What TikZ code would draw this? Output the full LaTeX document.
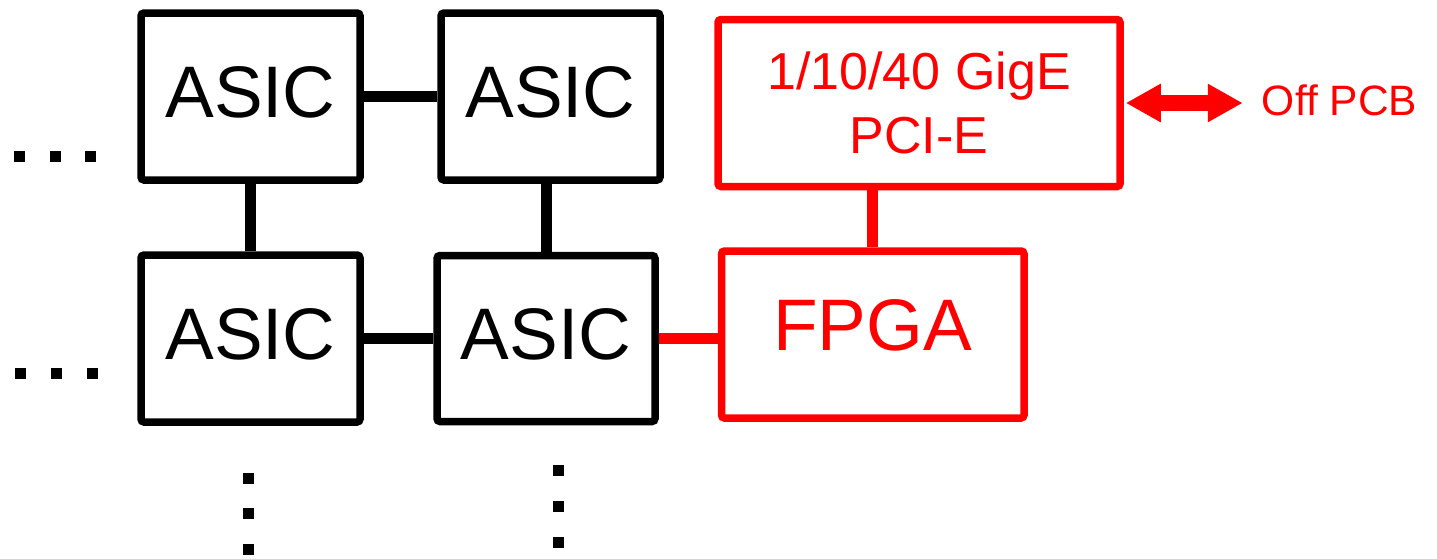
\documentclass[tikz,border=0pt]{standalone}
\usepackage{fontspec}
\setmainfont{Liberation Sans}
\usetikzlibrary{arrows.meta,positioning}
\definecolor{fpgared}{RGB}{255,0,0}

\begin{document}
\begin{tikzpicture}[
  x=1pt, y=-1pt,
  chip/.style={draw, line width=7.5pt, rounded corners=3pt,
               minimum width=219pt, minimum height=167pt, inner sep=0pt,
               font=\fontsize{73}{88}\selectfont},
  asic/.style={chip, text depth=8pt},
  redchip/.style={chip, draw=fpgared, text=fpgared},
  link/.style={line width=11pt},
  biarrow/.style={{Triangle[length=35pt,width=36pt]}-{Triangle[length=35pt,width=36pt]},
                  line width=16pt, fpgared}
]
\useasboundingbox (0,0) rectangle (1437,558);
\node[asic] (asicA) at (250.5,96.5) {ASIC};
\node[asic, right=73.5pt of asicA] (asicB) {ASIC};
\node[asic, below=67.5pt of asicA] (asicC) {ASIC};
\node[asic, minimum width=218pt, minimum height=166pt,
      right=69.5pt of asicC] (asicD) {ASIC};
\node[redchip, minimum width=302.5pt, right=59pt of asicD,
      yshift=4pt, text depth=18pt] (fpga) {FPGA};
\node[redchip, minimum width=402pt, above=57pt of fpga, xshift=46.25pt,
      font=\fontsize{52}{64}\selectfont, align=center] (gige)
  {1/10/40 GigE\\PCI-E};
\node[font=\fontsize{42.5}{50}\selectfont, text=fpgared, inner sep=0pt,
      right=138pt of gige, yshift=3pt] (offpcb) {Off PCB};
\draw[link] (asicA) -- (asicB);
\draw[link] (asicA) -- (asicC);
\draw[link] (asicD.north) -- (asicD.north |- asicB.south);
\draw[link] (asicC) -- (asicD);
\draw[link, fpgared] (asicD.east) -- (asicD.east -| fpga.west);
\draw[link, fpgared] (fpga.north) -- (fpga.north |- gige.south);
\draw[biarrow, shorten <=2pt, shorten >=19pt] (gige.east) -- (gige.east -| offpcb.west);
% dots: more chips off to the left and below
\foreach \px/\py in {19.5/156, 55/156, 90.5/156, 20.5/373.5, 56.5/373.5, 92/373.5,
                     248/478, 248/513.5, 248/549.5, 558/470.5, 558/506.5, 558/542}
  \fill (\px-5.5,\py-5.5) rectangle +(11,11);
\end{tikzpicture}
\end{document}
